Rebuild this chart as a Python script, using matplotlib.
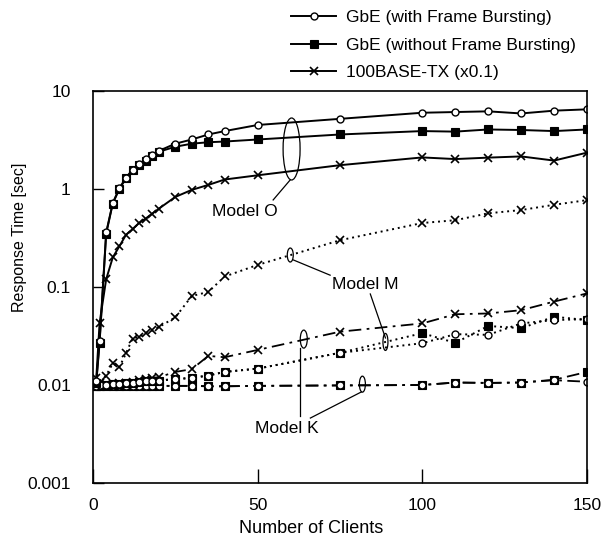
import matplotlib
matplotlib.use('Agg')
import matplotlib.pyplot as plt
from matplotlib.patches import Ellipse
from matplotlib.lines import Line2D
import matplotlib.transforms as mtransforms

plt.rcParams['font.family'] = ['Liberation Sans', 'DejaVu Sans']

# ---------------- data ----------------
clients = [1, 2, 4, 6, 8, 10, 12, 14, 16, 18, 20, 25, 30, 35, 40, 50, 75,
           100, 110, 120, 130, 140, 150]

# Model O (solid lines)
o_gbe_fb = [0.011, 0.028, 0.36, 0.72, 1.02, 1.30, 1.58, 1.80, 2.00, 2.20, 2.45,
            2.90, 3.20, 3.60, 3.90, 4.50, 5.20, 6.00, 6.10, 6.20, 5.90, 6.30, 6.50]
o_gbe_nofb = [0.0105, 0.027, 0.35, 0.71, 1.00, 1.28, 1.55, 1.75, 1.95, 2.15, 2.40,
              2.70, 2.90, 3.00, 3.05, 3.20, 3.60, 3.90, 3.85, 4.05, 4.00, 3.90, 4.05]
o_100tx = [0.0117, 0.043, 0.12, 0.20, 0.26, 0.34, 0.39, 0.45, 0.50, 0.56, 0.63,
           0.83, 0.98, 1.10, 1.25, 1.38, 1.75, 2.10, 2.02, 2.09, 2.15, 1.95, 2.35]

# Model M (dotted lines)
m_gbe_fb = [0.0098, 0.0100, 0.0101, 0.0102, 0.0103, 0.0105, 0.0106, 0.0108, 0.0109,
            0.0110, 0.0111, 0.0115, 0.0118, 0.0125, 0.0136, 0.0147, 0.0213,
            0.0267, 0.0330, 0.0325, 0.0425, 0.0460, 0.0470]
m_gbe_nofb = [0.0098, 0.0100, 0.0101, 0.0102, 0.0103, 0.0105, 0.0106, 0.0108, 0.0109,
              0.0110, 0.0111, 0.0115, 0.0118, 0.0125, 0.0136, 0.0147, 0.0213,
              0.0338, 0.0269, 0.0400, 0.0380, 0.0497, 0.0460]
m_100tx = [0.0098, 0.0105, 0.0125, 0.0166, 0.0152, 0.021, 0.0298, 0.031, 0.034,
           0.036, 0.039, 0.049, 0.081, 0.089, 0.128, 0.168, 0.30,
           0.45, 0.48, 0.565, 0.61, 0.69, 0.77]

# Model K (dash-dot lines)
k_gbe_fb = [0.0097, 0.0097, 0.0098, 0.0098, 0.0098, 0.0098, 0.0098, 0.0098, 0.0098,
            0.0098, 0.0098, 0.0098, 0.0098, 0.0097, 0.0097, 0.0098, 0.0099,
            0.0100, 0.0106, 0.0105, 0.0106, 0.0112, 0.0108]
k_gbe_nofb = [0.0097, 0.0097, 0.0098, 0.0098, 0.0098, 0.0098, 0.0098, 0.0098, 0.0098,
              0.0098, 0.0098, 0.0098, 0.0098, 0.0097, 0.0097, 0.0098, 0.0099,
              0.0100, 0.0106, 0.0105, 0.0106, 0.0113, 0.0136]
k_100tx = [0.0098, 0.0100, 0.0101, 0.0103, 0.0105, 0.0105, 0.0108, 0.0112, 0.0116,
           0.0118, 0.0120, 0.0136, 0.0145, 0.0198, 0.0192, 0.0228, 0.035,
           0.0425, 0.0527, 0.0537, 0.058, 0.071, 0.086]

legend_labels = ['GbE (with Frame Bursting)', 'GbE (without Frame Bursting)',
                 '100BASE-TX (x0.1)']
ytick_vals = [0.001, 0.01, 0.1, 1, 10]
ytick_labels = ['0.001', '0.01', '0.1', '1', '10']
xtick_vals = [0, 50, 100, 150]

# ---------------- styles ----------------
K = 'black'
circle = dict(marker='o', markersize=5, markerfacecolor='white',
              markeredgecolor=K, markeredgewidth=1.0)
square = dict(marker='s', markersize=5.5, markerfacecolor=K,
              markeredgecolor=K, markeredgewidth=0.8)
cross = dict(marker='x', markersize=6, markeredgecolor=K, markeredgewidth=1.2)

solid = dict(linestyle='-', linewidth=1.4, color=K)
dotted = dict(linestyle=(0, (1, 2)), linewidth=1.4, color=K)
dashdot = dict(linestyle=(0, (7, 3, 1.5, 3)), linewidth=1.3, color=K)

fig = plt.figure(figsize=(6.04, 5.39), dpi=100)
ax = fig.add_axes([93 / 604, 1 - 483 / 539, (587 - 93) / 604, (483 - 91) / 539])
ax.set_yscale('log')

# Model K
ax.plot(clients, k_100tx, **dashdot, **cross)
ax.plot(clients, k_gbe_nofb, **dashdot, **square)
ax.plot(clients, k_gbe_fb, **dashdot, **circle)
# Model M
ax.plot(clients, m_100tx, **dotted, **cross)
ax.plot(clients, m_gbe_nofb, **dotted, **square)
ax.plot(clients, m_gbe_fb, **dotted, **circle)
# Model O
ax.plot(clients, o_100tx, **solid, **cross)
ax.plot(clients, o_gbe_nofb, **solid, **square)
ax.plot(clients, o_gbe_fb, **solid, **circle)

ax.set_xlim(0, 150)
ax.set_ylim(0.001, 10)
ax.set_xticks(xtick_vals)
ax.set_xticklabels([str(v) for v in xtick_vals])
ax.set_yticks(ytick_vals)
ax.set_yticklabels(ytick_labels)
ax.minorticks_off()
ax.tick_params(axis='x', direction='in', length=10, width=1.0, pad=11, labelsize=12.5)
ax.tick_params(axis='y', direction='in', length=8, width=1.0, pad=16, labelsize=12.5)
for s in ax.spines.values():
    s.set_linewidth(1.2)
ax.set_xlabel('Number of Clients', fontsize=13)
ax.xaxis.set_label_coords((311 - 93) / 494, -(520 - 483) / 392)
ax.set_ylabel('Response Time [sec]', fontsize=11.5)
ax.yaxis.set_label_coords((27 - 93) / 494, (483 - 237) / 392)


# ---------------- annotations ----------------
def ellipse(x, y, w_px, h_px, ls='-'):
    tr = fig.dpi_scale_trans + mtransforms.ScaledTranslation(x, y, ax.transData)
    e = Ellipse((0, 0), w_px / 100, h_px / 100, transform=tr, fill=False,
                edgecolor=K, linewidth=0.9, linestyle=ls)
    ax.add_patch(e)


def leader(x1, y1, x2, y2):
    ax.plot([x1, x2], [y1, y2], color=K, linewidth=0.9)


# Model O
ellipse(60.3, 2.56, 17, 62)
leader(59.9, 1.24, 54.7, 0.773)
ax.text(46.2, 0.586, 'Model O', ha='center', va='center', fontsize=12.5)
# Model M
ellipse(59.9, 0.212, 6, 14)
leader(60.8, 0.189, 72.0, 0.132)
ax.text(82.7, 0.105, 'Model M', ha='center', va='center', fontsize=12.5)
leader(84.2, 0.0849, 88.8, 0.0302)
ellipse(88.8, 0.0275, 5, 17)
# Model K
ellipse(64.0, 0.0294, 7, 18)
leader(62.9, 0.0239, 62.9, 0.00483)
ax.text(58.9, 0.00361, 'Model K', ha='center', va='center', fontsize=12.5)
ellipse(81.8, 0.0102, 6, 16)
leader(81.5, 0.0085, 66.0, 0.0046)

# ---------------- legend ----------------
handles = [Line2D([], [], **solid, **circle),
           Line2D([], [], **solid, **square),
           Line2D([], [], **solid, **cross)]
fig.legend(handles, legend_labels, loc='upper left',
           bbox_to_anchor=(291 / 604, 1 - 10 / 539), frameon=False,
           handlelength=2.6, handletextpad=0.55, labelspacing=0.72,
           fontsize=12.5, borderaxespad=0, borderpad=0)

fig.savefig('out.png', dpi=100)
